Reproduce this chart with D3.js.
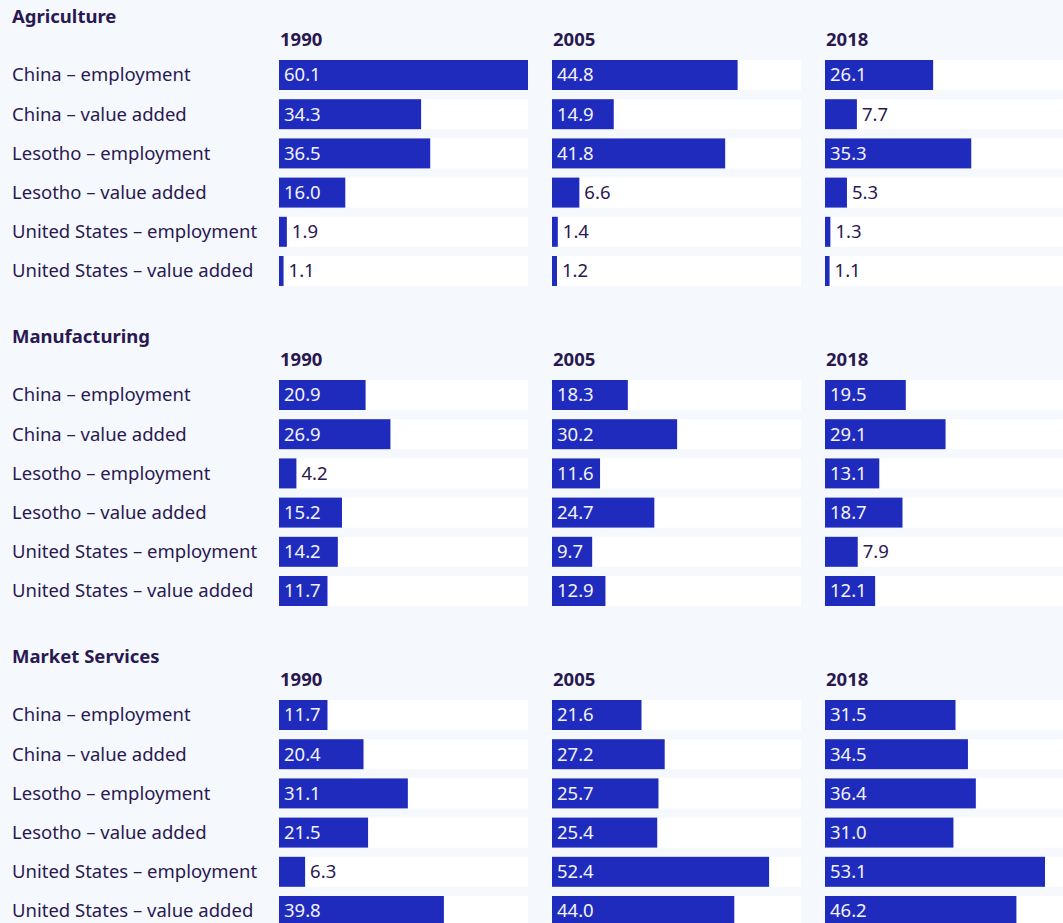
<!DOCTYPE html>
<html>
<head>
<meta charset="utf-8">
<script src="https://cdn.jsdelivr.net/npm/d3@7/dist/d3.min.js"></script>
<style>
  html, body { margin: 0; padding: 0; background: #f5f9fe; overflow: hidden; }
  svg { display: block; font-family: "Noto Sans", sans-serif; }
</style>
</head>
<body>
<svg id="chart" width="1063" height="923"></svg>
<script>
// Share of employment and value added by sector (%)
const sectors = ["Agriculture", "Manufacturing", "Market Services"];
const years = ["1990", "2005", "2018"];
const rowLabels = [
  "China – employment",
  "China – value added",
  "Lesotho – employment",
  "Lesotho – value added",
  "United States – employment",
  "United States – value added"
];

// one array per year, rows in the order of rowLabels
const agriculture = [
  [60.1, 34.3, 36.5, 16.0, 1.9, 1.1],
  [44.8, 14.9, 41.8, 6.6, 1.4, 1.2],
  [26.1, 7.7, 35.3, 5.3, 1.3, 1.1]
];
const manufacturing = [
  [20.9, 26.9, 4.2, 15.2, 14.2, 11.7],
  [18.3, 30.2, 11.6, 24.7, 9.7, 12.9],
  [19.5, 29.1, 13.1, 18.7, 7.9, 12.1]
];
const marketServices = [
  [11.7, 20.4, 31.1, 21.5, 6.3, 39.8],
  [21.6, 27.2, 25.7, 25.4, 52.4, 44.0],
  [31.5, 34.5, 36.4, 31.0, 53.1, 46.2]
];
const sectorValues = [agriculture, manufacturing, marketServices];

const BAR = "#1f2bbd";
const INK = "#2a1850";
const FONT = 18.5;
const fmt = d3.format(".1f");

const svg = d3.select("#chart");

const allValues = sectorValues.flat(2);
const x = d3.scaleLinear().domain([0, d3.max(allValues)]).range([0, 249]);
const col = d3.scaleBand().domain(years).range([279, 1074]).paddingInner(48 / 546);
const sectorY = d3.scaleBand().domain(sectors).range([0, 960]);
const row = d3.scaleBand().domain(rowLabels).range([60, 286]).paddingInner(9.2 / 39.2).paddingOuter(0);

sectors.forEach((sector, si) => {
  const g = svg.append("g").attr("transform", `translate(0,${sectorY(sector)})`);

  g.append("text")
    .attr("x", 12).attr("y", 17)
    .attr("dy", "0.35em")
    .attr("font-size", FONT).attr("font-weight", 700)
    .attr("fill", INK)
    .text(sector);

  g.selectAll("text.year").data(years).join("text")
    .attr("class", "year")
    .attr("x", d => col(d) + 1).attr("y", 40)
    .attr("dy", "0.35em")
    .attr("font-size", FONT).attr("font-weight", 700)
    .attr("fill", INK)
    .text(d => d);

  g.selectAll("text.row").data(rowLabels).join("text")
    .attr("class", "row")
    .attr("x", 12).attr("y", d => row(d) + row.bandwidth() / 2)
    .attr("dy", "0.35em")
    .attr("font-size", FONT)
    .attr("fill", INK)
    .text(d => d);

  years.forEach((yr, yi) => {
    const vals = sectorValues[si][yi].map((v, i) => ({ label: rowLabels[i], v }));
    const cg = g.append("g").attr("transform", `translate(${col(yr)},0)`);

    cg.selectAll("rect.track").data(vals).join("rect")
      .attr("class", "track")
      .attr("x", 0).attr("y", d => row(d.label))
      .attr("width", col.bandwidth()).attr("height", row.bandwidth())
      .attr("fill", "#ffffff");

    cg.selectAll("rect.bar").data(vals).join("rect")
      .attr("class", "bar")
      .attr("x", 0).attr("y", d => row(d.label))
      .attr("width", d => x(d.v)).attr("height", row.bandwidth())
      .attr("fill", BAR);

    cg.selectAll("text.val").data(vals).join("text")
      .attr("class", "val")
      .attr("y", d => row(d.label) + row.bandwidth() / 2)
      .attr("dy", "0.35em")
      .attr("font-size", FONT)
      .text(d => fmt(d.v))
      .each(function (d) {
        const w = this.getComputedTextLength();
        const inside = x(d.v) >= w + 9;
        d3.select(this)
          .attr("x", inside ? 5 : x(d.v) + 5)
          .attr("fill", inside ? "#f2f2ff" : INK);
      });
  });
});
</script>
</body>
</html>
